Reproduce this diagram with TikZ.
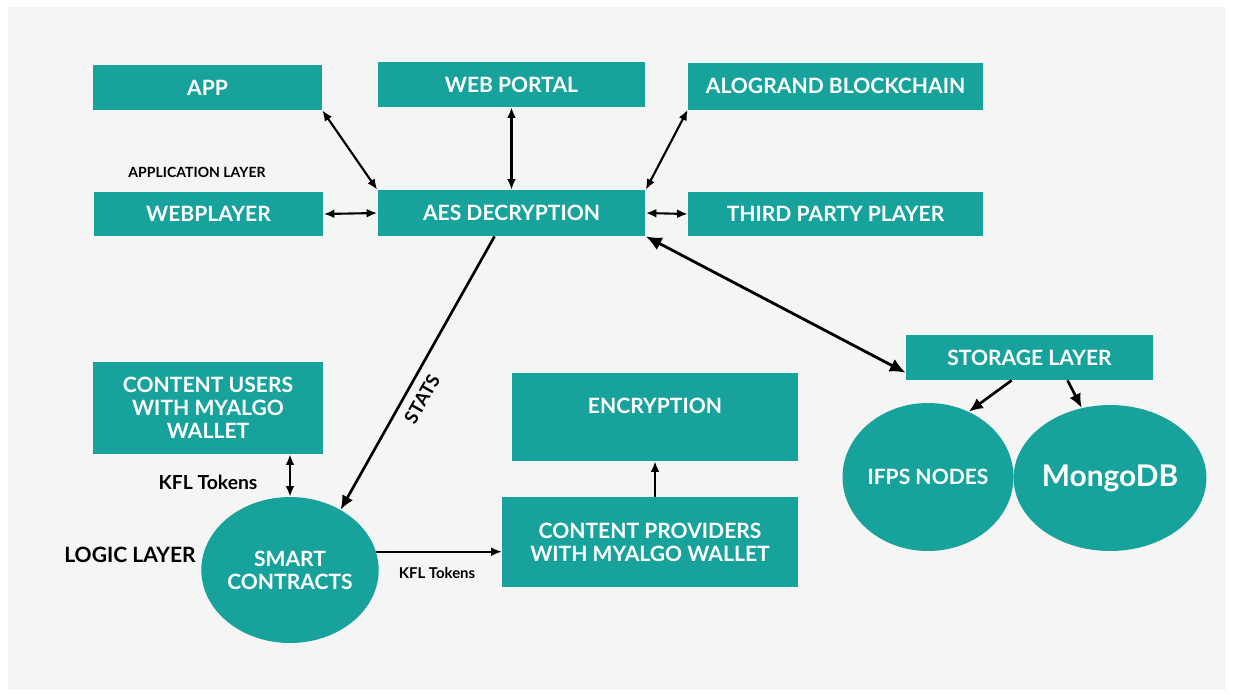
\documentclass[tikz,border=0pt]{standalone}
\usepackage{fontspec}
\setmainfont{Lato}
\usepackage{tikz}
\usetikzlibrary{arrows.meta,shapes.geometric}
\definecolor{boxteal}{HTML}{17A39C}
\definecolor{panel}  {HTML}{F5F5F5}

\begin{document}
\begin{tikzpicture}[x=0.02cm,y=-0.02cm,
    box/.style={fill=boxteal,text=white,align=center,inner sep=0pt,
                font=\fontsize{12}{13}\selectfont\bfseries},
    blob/.style={ellipse,fill=boxteal,text=white,align=center,inner sep=0pt,
                 font=\fontsize{12}{13}\selectfont\bfseries},
    tag/.style={text=black,font=\bfseries},
    link/.style={{Latex[length=6pt,width=5pt]}-{Latex[length=6pt,width=5pt]},line width=1.2pt},
    heavylink/.style={{Latex[length=9pt,width=8pt]}-{Latex[length=9pt,width=8pt]},line width=1.6pt},
    feed/.style={-{Latex[length=8pt,width=7pt]},line width=1.5pt}]
  \fill[white] (0,0) rectangle (1233,694);
  \fill[panel] (8,7) rectangle (1226,690);

  \node[box,minimum width=4.58cm,minimum height=0.9cm]  (app)       at (207.5,87.5) {APP};
  \node[box,minimum width=5.34cm,minimum height=0.9cm]  (portal)    at (511.5,84.5) {WEB PORTAL};
  \node[box,minimum width=5.9cm,minimum height=0.94cm]  (algo)      at (835.5,86)   {ALOGRAND BLOCKCHAIN};
  \node[box,minimum width=4.6cm,minimum height=0.88cm]  (webplayer) at (208.5,214)  {WEBPLAYER};
  \node[box,minimum width=5.36cm,minimum height=0.92cm] (aes)       at (511.5,213)  {AES DECRYPTION};
  \node[box,minimum width=5.9cm,minimum height=0.88cm]  (third)     at (835.5,214)  {THIRD PARTY PLAYER};
  \node[box,minimum width=4.94cm,minimum height=0.9cm]  (storage)   at (1029.5,357.5) {STORAGE LAYER};
  \node[box,minimum width=4.6cm,minimum height=1.84cm]  (users)     at (208,408)    {CONTENT USERS\\WITH MYALGO\\WALLET};
  \node[box,minimum width=5.72cm,minimum height=1.76cm] (encryption) at (655,417)   {ENCRYPTION\\ ~};
  \node[box,minimum width=5.92cm,minimum height=1.8cm]  (providers) at (650,542)    {CONTENT PROVIDERS\\WITH MYALGO WALLET};

  \node[blob,minimum width=3.48cm,minimum height=2.92cm] (smart) at (290,570)  {SMART\\CONTRACTS};
  \node[blob,minimum width=3.4cm,minimum height=2.96cm]  (ifps)  at (928,477)  {IFPS NODES};
  \node[blob,minimum width=3.5cm,minimum height=2.92cm,
        font=\fontsize{17}{20}\selectfont\bfseries]      (mongo) at (1110,478) {MongoDB};

  \node[tag,font=\fontsize{8}{9}\selectfont\bfseries]    (applayer)   at (197,172) {APPLICATION LAYER};
  \node[tag,font=\fontsize{12}{13}\selectfont\bfseries]  (logiclayer) at (130,555) {LOGIC LAYER};
  \node[tag,font=\fontsize{11}{12}\selectfont\bfseries]  (kflusers)   at (208,482) {KFL Tokens};
  \node[tag,font=\fontsize{8.5}{9}\selectfont\bfseries]  (kflprov)    at (437,573) {KFL Tokens};
  \node[tag,font=\fontsize{10.5}{12}\selectfont\bfseries,rotate=60.6,inner sep=0pt] (stats) at (422,399) {STATS};

  \draw[link] (app.south east) -- (aes.north west);
  \draw[link] (portal.south) -- (aes.north);
  \draw[link] (algo.south west) -- (aes.north east);
  \draw[link] (webplayer.east) -- (aes.west);
  \draw[link] (aes.east) -- (third.west);
  \draw[heavylink] (aes.south east) -- (storage.187);
  \draw[feed] (aes.234) -- (smart.50);
  \draw[link] (smart.north |- users.south) -- (smart.north);
  \draw[-{Latex[length=6pt,width=5pt]},line width=1pt] (smart.12) -- (smart.12 -| providers.west);
  \draw[-{Latex[length=6pt,width=5pt]},line width=1.1pt] (encryption.south |- providers.north) -- (encryption.south);
  \draw[feed] (storage.232) -- (ifps.58);
  \draw[feed] (storage.329) -- (mongo.112);
\end{tikzpicture}
\end{document}
